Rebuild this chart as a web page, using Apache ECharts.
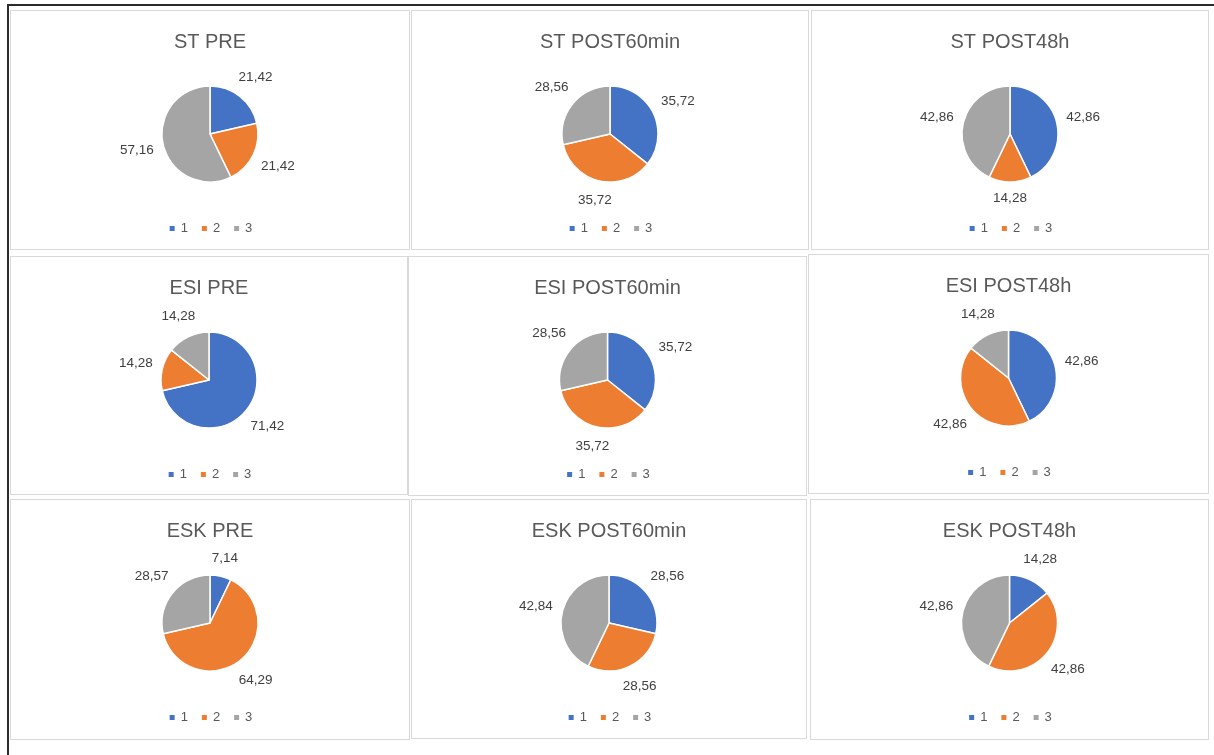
<!DOCTYPE html>
<html>
<head>
<meta charset="utf-8">
<script src="https://cdn.jsdelivr.net/npm/echarts@6/dist/echarts.min.js"></script>
<style>
  html, body { margin: 0; padding: 0; background: #fff; }
  body { width: 1214px; height: 755px; position: relative; overflow: hidden; }
  #frame { position: absolute; left: 7px; top: 4px; width: 1220px; height: 760px;
           border-top: 2px solid #2b2b2b; border-left: 2px solid #2b2b2b; }
  .panel { position: absolute; box-sizing: border-box; border: 1px solid #d9d9d9; background: #fff; }
  .panel .chart { position: absolute; left: 0; top: 0; right: 0; bottom: 0; }
</style>
</head>
<body>
<div id="frame"></div>
<script>
// chart titles, in reading order
const titles = ['ST PRE', 'ST POST60min', 'ST POST48h',
                'ESI PRE', 'ESI POST60min', 'ESI POST48h',
                'ESK PRE', 'ESK POST60min', 'ESK POST48h'];
const categories = ['1', '2', '3'];

// values per chart (categories 1, 2, 3)
const stPre = [21.42, 21.42, 57.16];
const stPost60 = [35.72, 35.72, 28.56];
const stPost48 = [42.86, 14.28, 42.86];
const esiPre = [71.42, 14.28, 14.28];
const esiPost60 = [35.72, 35.72, 28.56];
const esiPost48 = [42.86, 42.86, 14.28];
const eskPre = [7.14, 64.29, 28.57];
const eskPost60 = [28.56, 28.56, 42.84];
const eskPost48 = [14.28, 42.86, 42.86];

const allValues = [stPre, stPost60, stPost48, esiPre, esiPost60, esiPost48, eskPre, eskPost60, eskPost48];

const colors = ['#4472C4', '#ED7D31', '#A5A5A5'];

// panel boxes on the page: left, top, width, height
const panels = [
    [10, 10, 400, 240], [411, 10, 398, 240], [811, 10, 398, 240],
    [10, 256, 398, 239], [408, 256, 399, 240], [808, 254, 401, 240],
    [10, 499, 400, 241], [411, 499, 396, 240], [810, 499, 399, 241]
];

const PIE_R = 48;
const PIE_CY = 123;
const LABEL_GAP = 9;

function fmt(v) {
    return v.toFixed(2).replace('.', ',');
}

titles.forEach((title, i) => {
    const [left, top, w, h] = panels[i];
    const panel = document.createElement('div');
    panel.className = 'panel';
    panel.style.left = left + 'px';
    panel.style.top = top + 'px';
    panel.style.width = w + 'px';
    panel.style.height = h + 'px';
    const el = document.createElement('div');
    el.className = 'chart';
    panel.appendChild(el);
    document.body.appendChild(panel);

    const chart = echarts.init(el);
    const values = allValues[i];
    const total = values.reduce((a, b) => a + b, 0);
    const cx = (w - 2) / 2;

    // mid angle of each slice, clockwise from 12 o'clock
    const midAngles = [];
    let acc = 0;
    values.forEach(v => {
        midAngles.push((acc + v / 2) / total * Math.PI * 2);
        acc += v;
    });

    chart.setOption({
        color: colors,
        animation: false,
        title: {
            text: title,
            left: 'center',
            top: 16,
            textStyle: {
                fontFamily: 'Liberation Sans',
                fontSize: 20,
                fontWeight: 'normal',
                color: '#595959'
            }
        },
        legend: {
            data: categories,
            bottom: h - 231,
            left: 'center',
            icon: 'rect',
            itemWidth: 7,
            itemHeight: 7,
            itemGap: 12,
            textStyle: {
                fontFamily: 'Liberation Sans',
                fontSize: 13,
                color: '#595959'
            }
        },
        series: [{
            type: 'pie',
            center: [cx, PIE_CY],
            radius: [0, PIE_R],
            startAngle: 90,
            clockwise: true,
            itemStyle: {
                borderColor: '#fff',
                borderWidth: 1.5
            },
            label: {
                show: true,
                position: 'outside',
                formatter: p => fmt(p.value),
                fontFamily: 'Liberation Sans',
                fontSize: 13.5,
                color: '#404040'
            },
            labelLine: { show: false },
            // keep each label box a fixed gap outside the rim, like best fit
            labelLayout: params => {
                const a = midAngles[params.dataIndex];
                const s = Math.sin(a), c = Math.cos(a);
                const hw = params.labelRect.width / 2;
                const hh = params.labelRect.height / 2;
                const d = PIE_R + LABEL_GAP + hw * Math.abs(s) + hh * Math.abs(c);
                return {
                    x: cx + d * s,
                    y: PIE_CY - d * c,
                    align: 'center',
                    verticalAlign: 'middle'
                };
            },
            data: categories.map((c, k) => ({ name: c, value: values[k] }))
        }]
    });
});
</script>
</body>
</html>
